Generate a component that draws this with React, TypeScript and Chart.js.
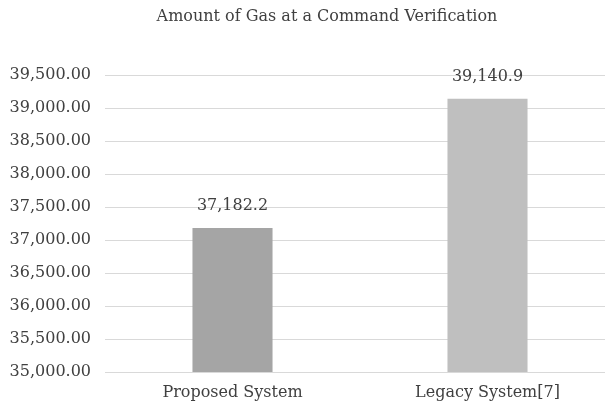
import React, { useEffect, useRef } from "react";
import { Chart, registerables } from "chart.js";

Chart.register(...registerables);

const titleText = "Amount of Gas at a Command Verification";
const categories = ["Proposed System", "Legacy System[7]"];
const gasValues = [37182.2, 39140.9];
const barColors = ["#a5a5a5", "#bfbfbf"];
const yMin = 35000;
const yMax = 39500;
const yStep = 500;

const FONT = "'DejaVu Serif', 'Liberation Serif', serif";
const TEXT_COLOR = "#404040";

const valueLabelPlugin = {
  id: "valueLabels",
  afterDatasetsDraw(chart: any) {
    const ctx = chart.ctx;
    ctx.save();
    ctx.font = `16px ${FONT}`;
    ctx.fillStyle = TEXT_COLOR;
    ctx.textAlign = "center";
    ctx.textBaseline = "middle";
    chart.data.datasets.forEach((ds: any, di: number) => {
      const meta = chart.getDatasetMeta(di);
      meta.data.forEach((el: any, i: number) => {
        const v = ds.data[i] as number;
        const txt = v.toLocaleString("en-US", { minimumFractionDigits: 1, maximumFractionDigits: 1 });
        ctx.fillText(txt, el.x, el.y - 22);
      });
    });
    ctx.restore();
  },
};

const titlePlugin = {
  id: "customTitle",
  afterDraw(chart: any) {
    const ctx = chart.ctx;
    ctx.save();
    ctx.font = `16px ${FONT}`;
    ctx.fillStyle = TEXT_COLOR;
    ctx.textAlign = "center";
    ctx.textBaseline = "middle";
    ctx.fillText(titleText, 327, 17);
    ctx.restore();
  },
};

export default function App() {
  const ref = useRef<HTMLCanvasElement | null>(null);
  useEffect(() => {
    if (!ref.current) return;
    const chart = new Chart(ref.current, {
      type: "bar",
      data: {
        labels: categories,
        datasets: [
          {
            data: gasValues,
            backgroundColor: barColors,
            borderWidth: 0,
            barPercentage: 0.314,
            categoryPercentage: 1,
          },
        ],
      },
      options: {
        animation: false,
        responsive: false,
        devicePixelRatio: 1,
        layout: { padding: { left: 10, right: 0, top: 75, bottom: 5 } },
        plugins: {
          legend: { display: false },
          tooltip: { enabled: false },
          title: { display: false },
        },
        scales: {
          x: {
            grid: { display: false, drawTicks: false },
            border: { display: false },
            ticks: {
              color: TEXT_COLOR,
              font: { family: FONT, size: 16 },
              padding: 11,
              maxRotation: 0,
            },
            afterFit: (scale: any) => {
              scale.height = 29;
            },
          },
          y: {
            min: yMin,
            max: yMax,
            grid: { color: "#d9d9d9", lineWidth: 1, drawTicks: false },
            border: { display: false },
            ticks: {
              stepSize: yStep,
              color: TEXT_COLOR,
              font: { family: FONT, size: 16 },
              padding: 14,
              callback: (v: any) =>
                Number(v).toLocaleString("en-US", { minimumFractionDigits: 2, maximumFractionDigits: 2 }),
            },
            afterFit: (scale: any) => {
              scale.width = 95;
            },
          },
        },
      },
      plugins: [valueLabelPlugin, titlePlugin],
    });
    return () => chart.destroy();
  }, []);
  return (
    <div style={{ position: "fixed", left: 0, top: 0, width: 605, height: 406, overflow: "hidden", background: "#fff" }}>
      <canvas ref={ref} width={615} height={406} style={{ width: 615, height: 406, display: "block" }} />
    </div>
  );
}
